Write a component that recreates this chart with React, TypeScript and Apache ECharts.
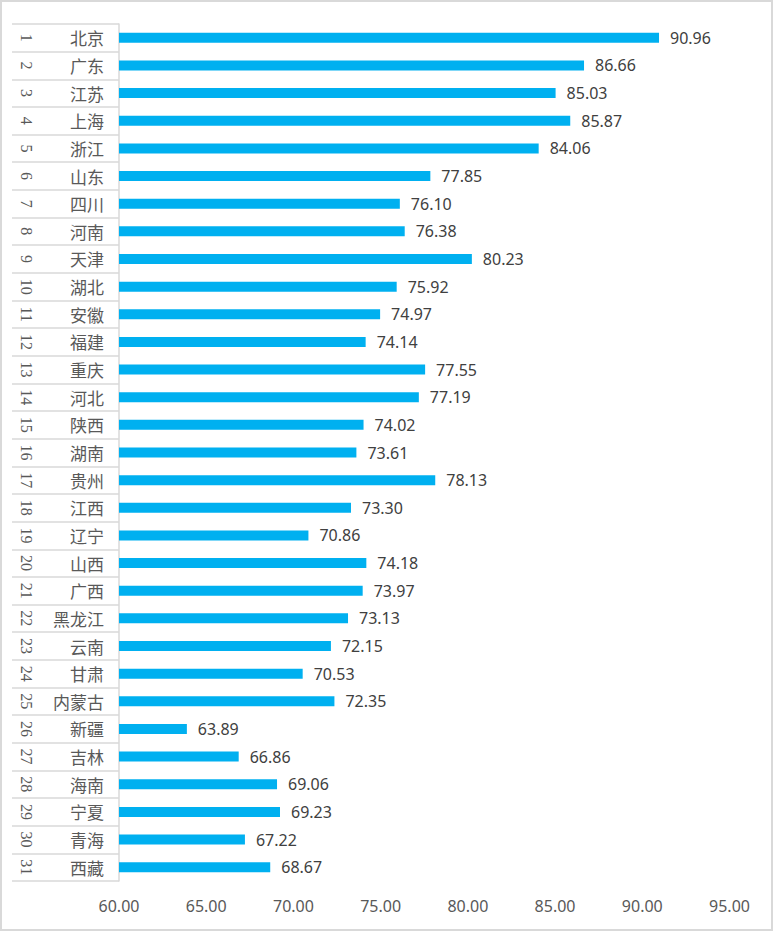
import React, { useEffect, useRef } from "react";
import * as echarts from "echarts";

const provinces = ["北京","广东","江苏","上海","浙江","山东","四川","河南","天津","湖北","安徽","福建","重庆","河北","陕西","湖南","贵州","江西","辽宁","山西","广西","黑龙江","云南","甘肃","内蒙古","新疆","吉林","海南","宁夏","青海","西藏"];
const scores = [90.96,86.66,85.03,85.87,84.06,77.85,76.10,76.38,80.23,75.92,74.97,74.14,77.55,77.19,74.02,73.61,78.13,73.30,70.86,74.18,73.97,73.13,72.15,70.53,72.35,63.89,66.86,69.06,69.23,67.22,68.67];
const ranks = provinces.map((_, i) => String(i + 1));
const xMin = 60;
const xMax = 95;
const xStep = 5;

export default function App() {
  const ref = useRef<HTMLDivElement>(null);
  useEffect(() => {
    document.body.style.margin = "0";
    const chart = echarts.init(ref.current!, undefined, { renderer: "svg" });
    chart.setOption({
      animation: false,
      backgroundColor: "#ffffff",
      graphic: [
        {
          type: "rect",
          shape: { x: 1, y: 1, width: 771, height: 929 },
          style: { fill: "none", stroke: "#d9d9d9", lineWidth: 2 },
          silent: true,
        },
      ],
      grid: { left: 119, right: 45.5, top: 24, bottom: 51, containLabel: false },
      xAxis: {
        type: "value",
        min: xMin,
        max: xMax,
        interval: xStep,
        axisLine: { show: false },
        axisTick: { show: false },
        splitLine: { show: false },
        axisLabel: {
          formatter: (v: number) => v.toFixed(2),
          color: "#595959",
          fontSize: 16,
          fontFamily: "Noto Sans",
          margin: 17,
        },
      },
      yAxis: [
        {
          type: "category",
          inverse: true,
          data: provinces,
          axisLine: { show: true, lineStyle: { color: "#d9d9d9", width: 1.5 } },
          axisTick: { show: true, length: 107, lineStyle: { color: "#d9d9d9", width: 1.5 } },
          axisLabel: {
            color: "#595959",
            fontSize: 17,
            fontFamily: "Noto Sans CJK SC",
            margin: 15,
          },
        },
        {
          type: "category",
          inverse: true,
          position: "left",
          offset: 93,
          data: ranks,
          axisLine: { show: false },
          axisTick: { show: false },
          axisLabel: {
            rotate: -90,
            align: "center",
            verticalAlign: "middle",
            margin: 0,
            color: "#595959",
            fontSize: 16,
            fontFamily: "Liberation Serif",
          },
        },
      ],
      series: [
        {
          type: "bar",
          yAxisIndex: 0,
          data: scores,
          barWidth: 10,
          itemStyle: { color: "#00B0F0" },
          label: {
            show: true,
            position: "right",
            distance: 11,
            formatter: (p: any) => Number(p.value).toFixed(2),
            color: "#404040",
            fontSize: 16,
            fontFamily: "Noto Sans",
          },
        },
      ],
    });
    return () => chart.dispose();
  }, []);
  return <div ref={ref} style={{ width: 775, height: 932, position: "absolute", left: 0, top: 0 }} />;
}
